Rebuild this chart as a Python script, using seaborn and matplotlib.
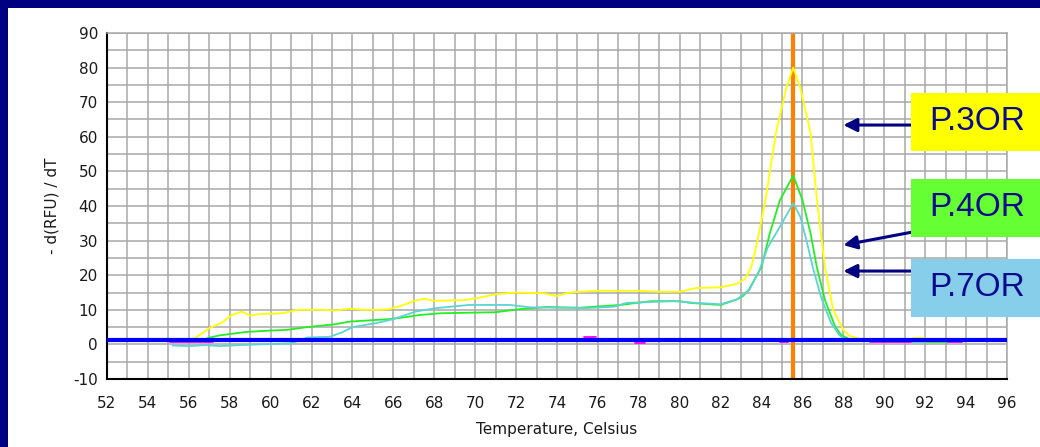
import numpy as np
import pandas as pd
import seaborn as sns
import matplotlib.pyplot as plt
from matplotlib.patches import Rectangle

# curvas de fusión (temperatura, -d(RFU)/dT)
temp_3or = [56.2, 56.6, 57.0, 57.6, 58.1, 58.6, 59.0, 59.5, 60.6, 61.3, 62.5, 63.2, 63.8,
            64.5, 65.3, 65.8, 66.3, 67.0, 67.5, 68.0, 69.5, 70.2, 71.0, 72.0, 73.3, 74.0,
            74.6, 76.0, 78.0, 79.0, 80.0, 80.8, 82.0, 82.8, 83.2, 83.5, 83.8, 84.2, 84.7,
            85.2, 85.55, 85.9, 86.4, 86.7, 87.1, 87.5, 88.0, 88.3, 88.8, 89.2]
rfu_3or = [1.5, 3.0, 4.7, 6.2, 8.5, 9.5, 8.3, 8.8, 9.0, 10.0, 10.0, 9.8, 10.3,
           10.0, 10.0, 10.2, 11.0, 12.5, 13.2, 12.6, 12.8, 13.5, 14.5, 15.0, 14.8, 14.0,
           15.0, 15.5, 15.5, 15.2, 15.2, 16.3, 16.5, 17.5, 19.0, 22.4, 30.0, 42.0, 61.0,
           74.0, 80.0, 74.0, 61.0, 42.0, 22.4, 10.0, 4.2, 2.5, 1.6, 1.5]

temp_4or = [56.9, 57.5, 58.8, 60.0, 60.8, 61.8, 63.1, 63.9, 65.8, 66.5, 67.3, 68.3, 71.0,
            72.2, 73.5, 75.1, 77.1, 78.6, 80.0, 80.5, 82.0, 82.8, 83.1, 83.4, 84.0, 84.4,
            84.9, 85.55, 86.0, 86.4, 86.7, 87.1, 87.6, 87.9, 88.3]
rfu_4or = [1.8, 2.6, 3.6, 4.0, 4.2, 5.0, 5.8, 6.6, 7.3, 7.8, 8.5, 9.0, 9.3,
           10.2, 10.8, 10.6, 11.4, 12.5, 12.5, 12.0, 11.4, 13.0, 14.0, 16.0, 22.4, 32.0,
           41.7, 48.8, 41.7, 32.0, 22.4, 12.8, 5.1, 2.7, 1.5]

temp_7or = [55.2, 56.0, 56.8, 57.5, 58.5, 59.5, 61.0, 61.8, 62.9, 63.5, 64.0, 65.2, 66.0,
            67.1, 68.1, 69.7, 71.7, 72.7, 75.5, 76.8, 77.4, 79.7, 80.8, 82.0, 82.8, 83.4,
            83.9, 84.3, 84.9, 85.55, 85.9, 86.2, 86.5, 86.9, 87.4, 87.8, 88.1]
rfu_7or = [-0.3, -0.5, -0.2, -0.5, -0.2, 0.0, 0.3, 2.0, 2.2, 3.5, 5.0, 6.2, 7.3,
           9.5, 10.5, 11.4, 11.4, 10.7, 10.5, 10.9, 12.0, 12.5, 12.0, 11.6, 13.0, 15.7,
           21.5, 28.0, 34.0, 40.8, 36.8, 30.0, 22.4, 13.8, 6.2, 2.7, 1.3]

# trozos cortos cerca de cero (serie, inicio, fin, valor)
frag_serie = ['neg', 'neg', 'neg', 'neg', 'neg', 'neg', 'P.4OR', 'P.7OR', 'P.3OR']
frag_ini = [55.1, 75.3, 77.8, 84.9, 89.3, 93.1, 92.1, 91.3, 91.4]
frag_fin = [57.2, 75.9, 78.3, 85.3, 91.3, 93.8, 93.1, 92.1, 92.0]
frag_val = [0.6, 2.0, 0.3, 0.6, 0.6, 0.6, 0.6, 0.6, 1.8]

umbral = 1.3
pico = 85.55

etiquetas = ['P.3OR', 'P.4OR', 'P.7OR']
colores_caja = ['#ffff00', '#66ff33', '#87ceeb']
flecha_y_ini = [63.4, 32.5, 21.2]
flecha_y_fin = [63.4, 28.7, 21.2]

# armar tabla larga
filas = []
for nombre, t, v in [('P.3OR', temp_3or, rfu_3or), ('P.4OR', temp_4or, rfu_4or),
                     ('P.7OR', temp_7or, rfu_7or)]:
    for a, b in zip(t, v):
        filas.append((nombre, nombre, a, b))
for i, (s, a, b, v) in enumerate(zip(frag_serie, frag_ini, frag_fin, frag_val)):
    filas.append((s, 'f%d' % i, a, v))
    filas.append((s, 'f%d' % i, b, v))
df = pd.DataFrame(filas, columns=['serie', 'seg', 'temp', 'rfu'])

sns.set_style("white")
plt.rcParams['font.family'] = ['DejaVu Sans']
plt.rcParams['axes.unicode_minus'] = False

fig = plt.figure(figsize=(10.4, 4.47), dpi=100, facecolor='#000080')
fig.patches.append(Rectangle((8 / 1040, 0), 1 - 8 / 1040, 1 - 8 / 447,
                             transform=fig.transFigure, facecolor='white',
                             edgecolor='none', zorder=-5))
ax = fig.add_axes([107 / 1040, 1 - 379 / 447, 900 / 1040, 346 / 447])
ax.set_zorder(1)
ax.set_facecolor('white')

paleta = {'P.3OR': '#ffff00', 'P.4OR': '#22ee22', 'P.7OR': '#5cd4d4', 'neg': '#ff00ff'}
ax.axvline(pico, color='#ff8000', lw=3, zorder=2)
sns.lineplot(data=df, x='temp', y='rfu', hue='serie', units='seg', estimator=None,
             palette=paleta, sort=False, legend=False, lw=1.3, ax=ax, zorder=3)
ax.axhline(umbral, color='#0000ff', lw=3, zorder=4)

ax.set_xlim(52, 96)
ax.set_ylim(-10, 90)
ax.set_xticks(range(52, 97, 2))
ax.set_xticks(range(52, 97), minor=True)
ax.set_yticks(range(-10, 91, 10))
ax.set_yticks(range(-10, 91, 5), minor=True)
ax.grid(True, which='both', color='#a8a8a8', lw=1.1, zorder=1)
ax.set_axisbelow(True)
ax.tick_params(which='both', direction='inout', length=5, width=1.2, color='black',
               labelsize=11, labelcolor='#1a1a1a')
ax.tick_params(axis='x', pad=10)
ax.tick_params(axis='y', pad=4)
for lado in ['left', 'bottom']:
    ax.spines[lado].set_color('black')
    ax.spines[lado].set_linewidth(1.5)
for lado in ['top', 'right']:
    ax.spines[lado].set_color('#a8a8a8')
    ax.spines[lado].set_linewidth(1.1)
ax.set_xlabel('Temperature, Celsius', fontsize=11, color='#1a1a1a', labelpad=8)
ax.set_ylabel('- d(RFU) / dT', fontsize=11, color='#1a1a1a', labelpad=10)

# cajas con nombres y flechas
cajas_y = [1 - 151 / 447, 1 - 237 / 447, 1 - 317 / 447]
for nom, col, yb, y0, y1 in zip(etiquetas, colores_caja, cajas_y, flecha_y_ini, flecha_y_fin):
    fig.patches.append(Rectangle((911 / 1040, yb), 129 / 1040, 58 / 447,
                                 transform=fig.transFigure, facecolor=col,
                                 edgecolor='none', zorder=5))
    fig.text((911 + 66) / 1040, yb + 29 / 447, nom, ha='center', va='center',
             fontsize=24, color='#0a0a8c', family='Liberation Sans', zorder=6)
    ax.annotate('', xy=(88.0, y1), xytext=(91.4, y0), annotation_clip=False,
                arrowprops=dict(arrowstyle='-|>,head_length=0.8,head_width=0.4',
                                color='#000080', lw=2.2, shrinkA=0, shrinkB=0))

plt.savefig('out.png', dpi=100, facecolor=fig.get_facecolor())
